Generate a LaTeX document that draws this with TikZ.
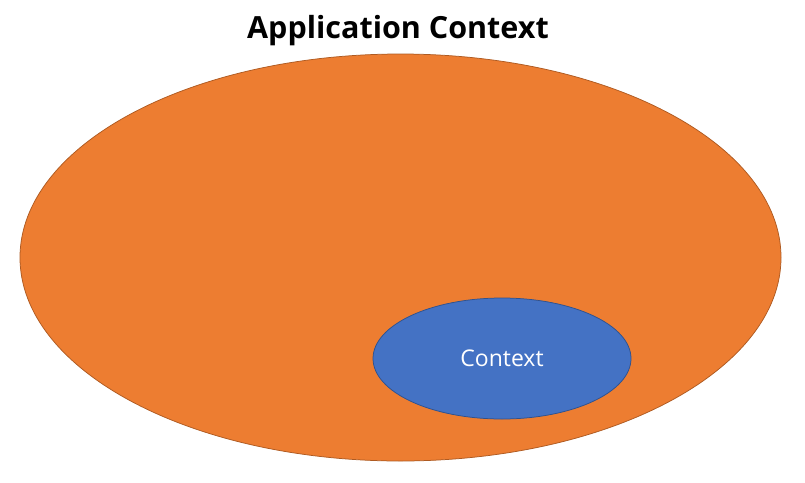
\documentclass[tikz,border=0pt]{standalone}
\usepackage{fontspec}
\setmainfont{Open Sans}
\usetikzlibrary{shapes.geometric}
\definecolor{ctxorange}{HTML}{ED7D31}
\definecolor{ctxorangeline}{HTML}{AE5A21}
\definecolor{ctxblue}{HTML}{4472C4}
\definecolor{ctxblueline}{HTML}{2F528F}
\tikzset{
    bubble/.style={ellipse, draw, line width=0.75pt, inner sep=0pt}
}
\begin{document}
\begin{tikzpicture}[x=1pt, y=-1pt]
        \useasboundingbox (0, 0) rectangle (805, 482);

        \node[bubble, fill=ctxorange, draw=ctxorangeline, minimum width=761pt, minimum height=407pt] (appctx) at (400.5, 257.5) {};
        \node[bubble, fill=ctxblue, draw=ctxblueline, minimum width=258pt, minimum height=121pt, text=white, font=\fontsize{23}{27}\selectfont] (ctx) at (502, 358.5) {Context};

        \node[font=\fontsize{30.5}{34}\selectfont\bfseries] (title) at (398, 31) {Application Context};

    \end{tikzpicture}
\end{document}
